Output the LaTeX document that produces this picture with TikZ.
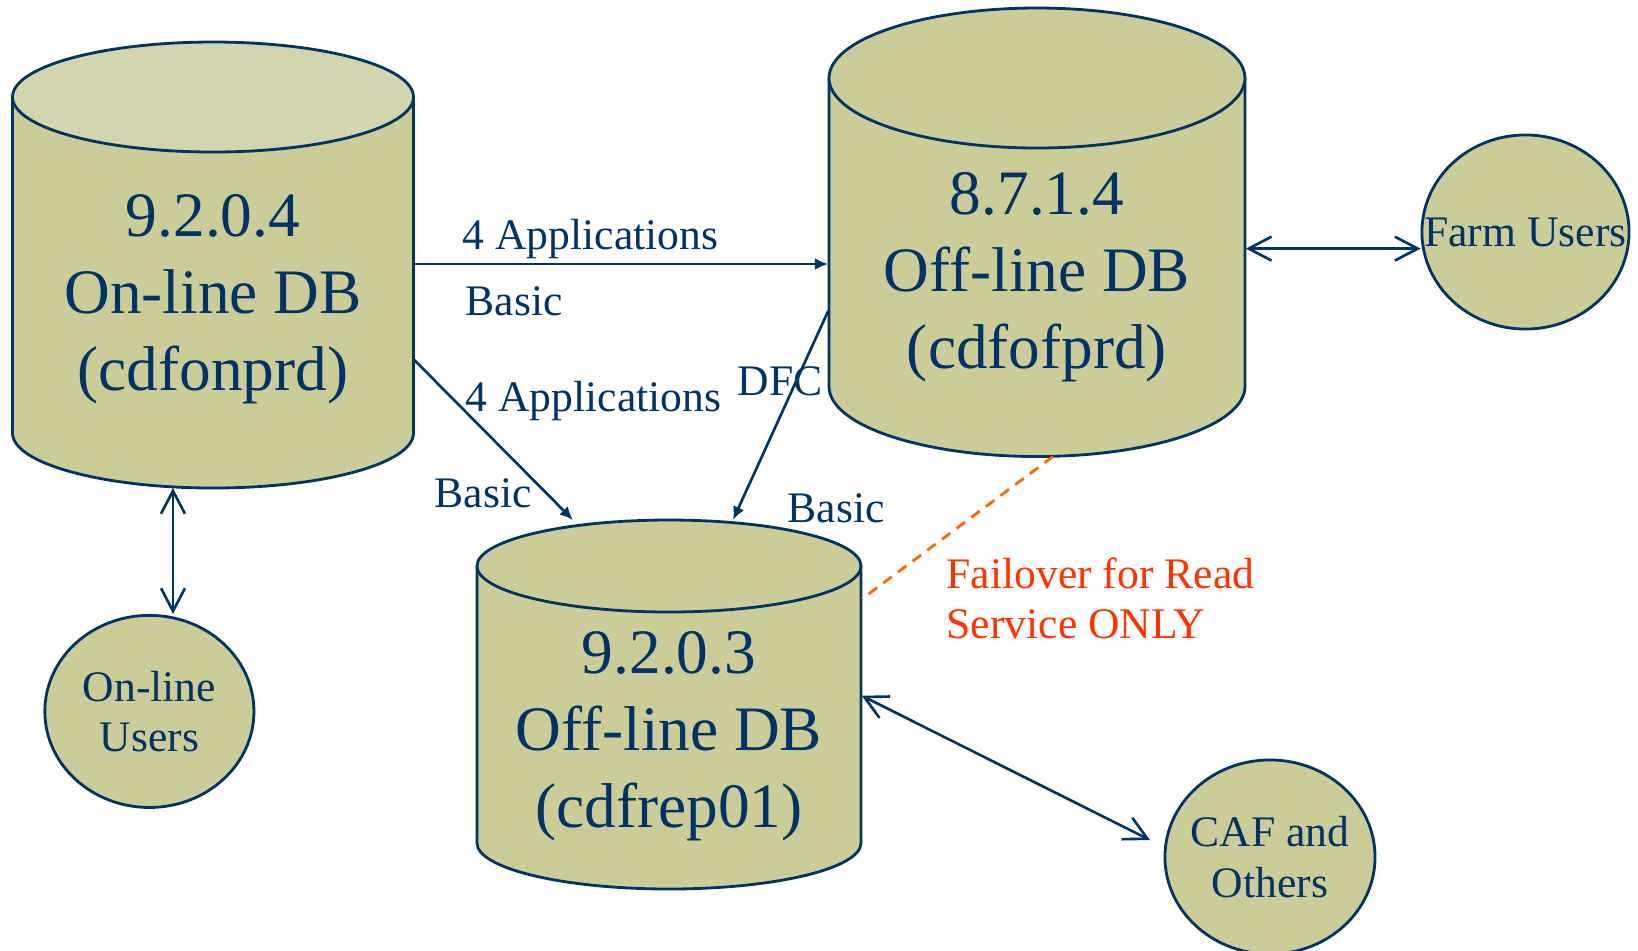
\documentclass[tikz,border=0pt]{standalone}
\usepackage{fontspec}
\setmainfont{Liberation Serif}
\usetikzlibrary{arrows.meta, shapes.geometric}

\definecolor{navy}{HTML}{003366}
\definecolor{khaki}{HTML}{CCCC99}
\definecolor{khakitop}{HTML}{D3D5AE}
\definecolor{failred}{HTML}{FF3300}
\definecolor{failorange}{HTML}{FF6600}

\tikzset{
    cylline/.style={draw=navy, line width=0.8pt},
    dbtext/.style={text=navy, align=center, inner sep=0pt,
        font=\fontsize{18}{21.9}\selectfont},
    lbl/.style={text=navy, inner sep=0pt, anchor=west,
        font=\fontsize{12.4}{14.3}\selectfont},
    usernode/.style={ellipse, draw=navy, line width=0.8pt, fill=khaki, inner sep=0pt},
    usertext/.style={text=navy, align=center, inner sep=0pt,
        font=\fontsize{12.4}{14.3}\selectfont},
    link/.style={draw=navy, line width=0.75pt, -{Latex[length=3.8pt,width=3.4pt]}},
    dlink/.style={draw=navy, line width=0.75pt,
        {Straight Barb[length=6.5pt,width=6.8pt]}-{Straight Barb[length=6.5pt,width=6.8pt]}}
}

% cylindre : x centre, y haut, y bas, rayon x, rayon y, couleur du dessus
\newcommand{\dbcylinder}[6]{%
    \draw[cylline, fill=khaki] (#1-#4, #2) -- (#1-#4, #3)
        arc[start angle=180, end angle=0, x radius=#4, y radius=#5] -- (#1+#4, #2);
    \draw[cylline, fill=#6] (#1, #2) ellipse[x radius=#4, y radius=#5];
}

\begin{document}
\begin{tikzpicture}[x=0.01cm, y=-0.01cm]
    \useasboundingbox (0, 0) rectangle (1638, 950);

    % Bases de donnees
    \dbcylinder{213}{97}{433}{200.5}{55}{khakitop}
    \node[dbtext, minimum width=4.01cm] (onprd) at (213, 299.5) {9.2.0.4\\On-line DB\\(cdfonprd)};

    \dbcylinder{1037}{78}{386.5}{208}{70}{khaki}
    \node[dbtext, minimum width=4.16cm] (ofprd) at (1037, 277) {8.7.1.4\\Off-line DB\\(cdfofprd)};

    \dbcylinder{669}{566}{843}{192}{46}{khaki}
    \node[dbtext, minimum width=3.84cm] (rep01) at (669, 736.5) {9.2.0.3\\Off-line DB\\(cdfrep01)};

    % Utilisateurs
    \node[usernode, minimum width=2.09cm, minimum height=1.92cm,
        label={[usertext]center:On-line\\Users}] (onusers) at (149.4, 711.4) {};
    \node[usernode, minimum width=2.07cm, minimum height=1.94cm,
        label={[usertext]center:Farm Users}] (farm) at (1525.5, 232) {};
    \node[usernode, minimum width=2.10cm, minimum height=1.94cm,
        label={[usertext]center:CAF and\\Others}] (caf) at (1270, 857) {};

    % Points sur les cylindres
    \coordinate (onprd-bas) at (173, 488);
    \coordinate (rep-haut1) at (573, 520);
    \coordinate (rep-haut2) at (733, 520);
    \coordinate (ofprd-bas) at (1053, 456.5);
    \coordinate (caf-fin) at (1150, 840);

    % Replications
    \draw[link] (onprd.east |- 0, 264) -- (ofprd.west |- 0, 264);
    \node[lbl] (app1) at (462, 239) {4 Applications};
    \node[lbl] (basic1) at (465, 301) {Basic};

    \draw[link] (onprd.east |- 0, 360) -- (rep-haut1);
    \node[lbl] (app2) at (465, 401) {4 Applications};
    \node[lbl] (basic2) at (434, 493) {Basic};

    \draw[link] (ofprd.west |- 0, 311) -- (rep-haut2);
    \node[lbl] (dfc) at (737, 381) {DFC};
    \node[lbl] (basic3) at (787, 508) {Basic};

    % Acces des utilisateurs
    \draw[dlink] (onprd-bas) -- (onusers.north -| onprd-bas);
    \draw[dlink] (ofprd.east |- 0, 248.6) -- (farm.west |- 0, 248.6);
    \draw[dlink] (rep01.east |- 0, 695.7) -- (caf-fin);

    % Secours
    \draw[failorange, line width=0.8pt, dash pattern=on 3pt off 2.2pt] (ofprd-bas) -- (rep01.east |- 0, 599);
    \node[lbl, text=failred, align=left, anchor=north west] (fail) at (946, 557) {Failover for Read\\Service ONLY};
\end{tikzpicture}
\end{document}
